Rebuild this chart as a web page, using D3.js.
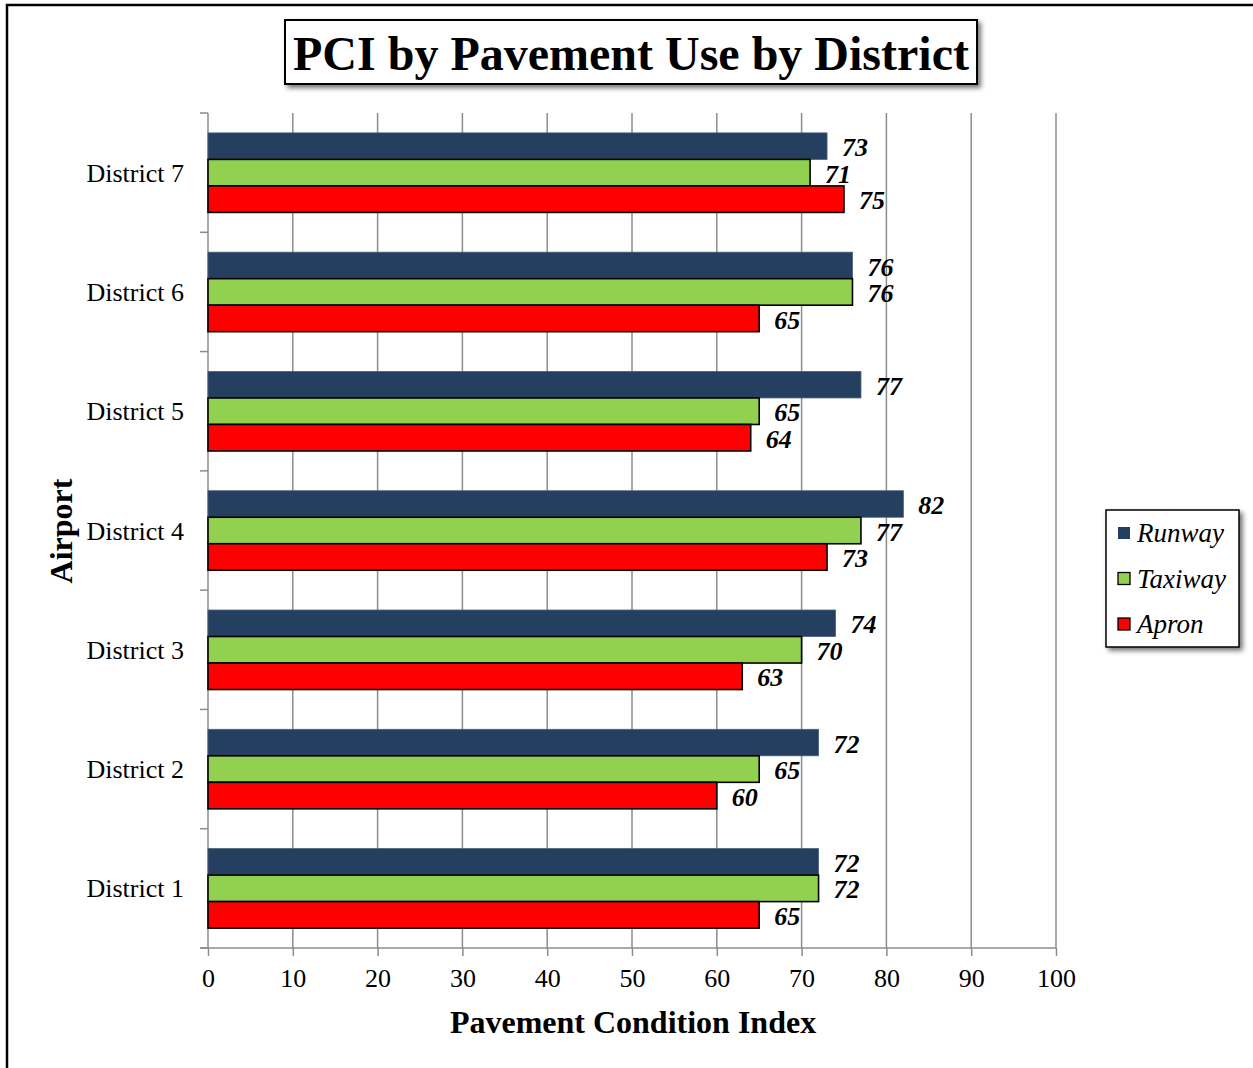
<!DOCTYPE html>
<html>
<head>
<meta charset="utf-8">
<script src="https://cdn.jsdelivr.net/npm/d3@7"></script>
<style>
  html, body { margin: 0; padding: 0; background: #fff; }
  svg { display: block; }
  text { font-family: "Liberation Serif", "Times New Roman", serif; }
</style>
</head>
<body>
<svg id="chart" width="1253" height="1068"></svg>
<script>
// Districts, listed top to bottom
const districts = ["District 7", "District 6", "District 5", "District 4", "District 3", "District 2", "District 1"];
const seriesNames = ["Runway", "Taxiway", "Apron"];
const runway  = [73, 76, 77, 82, 74, 72, 72];
const taxiway = [71, 76, 65, 77, 70, 65, 72];
const apron   = [75, 65, 64, 73, 63, 60, 65];
const xTicks = [0, 10, 20, 30, 40, 50, 60, 70, 80, 90, 100];

const seriesValues = [runway, taxiway, apron];
const colors = { Runway: "#243F60", Taxiway: "#92D050", Apron: "#FF0000" };
const strokes = { Runway: "#4A5F7A", Taxiway: "#000", Apron: "#000" };

const svg = d3.select("#chart");

// outer frame
svg.append("path")
  .attr("d", "M7,1068 L7,5 L1253,5")
  .attr("fill", "none").attr("stroke", "#000").attr("stroke-width", 2.5);

const defs = svg.append("defs");
const f = defs.append("filter").attr("id", "shadow").attr("x", "-10%").attr("y", "-10%").attr("width", "130%").attr("height", "130%");
f.append("feDropShadow").attr("dx", 3).attr("dy", 3).attr("stdDeviation", 2.5).attr("flood-color", "#000").attr("flood-opacity", 0.55);

const plot = { left: 208, right: 1056, top: 113, bottom: 948 };

const x = d3.scaleLinear().domain([0, 100]).range([plot.left, plot.right]);
const y = d3.scaleBand().domain(districts).range([plot.top, plot.bottom]).paddingInner(0.3333).paddingOuter(0.1667);
const ySub = d3.scaleBand().domain(seriesNames).range([0, y.bandwidth()]);

// vertical gridlines
svg.append("g").selectAll("line")
  .data(xTicks.filter(d => d > 0))
  .join("line")
  .attr("x1", d => x(d)).attr("x2", d => x(d))
  .attr("y1", plot.top).attr("y2", plot.bottom)
  .attr("stroke", "#8c8c8c").attr("stroke-width", 1.5);

// x axis
const xAxis = svg.append("g")
  .attr("transform", `translate(0,${plot.bottom})`)
  .call(d3.axisBottom(x).tickValues(xTicks).tickSize(8).tickPadding(13).tickFormat(d3.format("d")));
xAxis.select(".domain").attr("stroke", "#8c8c8c").attr("stroke-width", 1.5)
  .attr("d", `M${plot.left - 8},0H${plot.right}`);
xAxis.selectAll(".tick line").attr("stroke", "#8c8c8c").attr("stroke-width", 1.5);
xAxis.selectAll(".tick text").attr("font-size", 26).attr("fill", "#000")
  .style("font-family", "'Liberation Serif', serif");

// y axis: category boundary ticks
const boundaries = d3.range(districts.length + 1).map(i => plot.top + i * y.step());
svg.append("line")
  .attr("x1", plot.left).attr("x2", plot.left)
  .attr("y1", plot.top).attr("y2", plot.bottom)
  .attr("stroke", "#8c8c8c").attr("stroke-width", 1.5);
svg.append("g").selectAll("line")
  .data(boundaries)
  .join("line")
  .attr("x1", plot.left - 8).attr("x2", plot.left)
  .attr("y1", d => d).attr("y2", d => d)
  .attr("stroke", "#8c8c8c").attr("stroke-width", 1.5);

// category labels
svg.append("g").selectAll("text")
  .data(districts)
  .join("text")
  .attr("x", 184)
  .attr("y", d => y(d) + y.bandwidth() / 2)
  .attr("dy", "0.35em")
  .attr("text-anchor", "end")
  .attr("font-size", 26)
  .text(d => d);

// bars
const rows = [];
districts.forEach((d, i) => {
  seriesNames.forEach((s, j) => rows.push({ district: d, series: s, value: seriesValues[j][i] }));
});

svg.append("g").selectAll("rect")
  .data(rows)
  .join("rect")
  .attr("x", x(0))
  .attr("y", d => y(d.district) + ySub(d.series))
  .attr("width", d => x(d.value) - x(0))
  .attr("height", ySub.bandwidth())
  .attr("fill", d => colors[d.series])
  .attr("stroke", d => strokes[d.series])
  .attr("stroke-width", d => d.series === "Runway" ? 0.8 : 1.6);

// value labels
svg.append("g").selectAll("text")
  .data(rows)
  .join("text")
  .attr("x", d => x(d.value) + 15)
  .attr("y", d => y(d.district) + ySub(d.series) + ySub.bandwidth() / 2 + 1)
  .attr("dy", "0.35em")
  .attr("font-size", 26)
  .attr("font-weight", "bold")
  .attr("font-style", "italic")
  .text(d => d.value);

// axis titles
svg.append("text")
  .attr("x", 633).attr("y", 1033)
  .attr("text-anchor", "middle")
  .attr("font-size", 32).attr("font-weight", "bold")
  .text("Pavement Condition Index");

svg.append("text")
  .attr("transform", "translate(72,531) rotate(-90)")
  .attr("text-anchor", "middle")
  .attr("font-size", 32).attr("font-weight", "bold")
  .text("Airport");

// title box
svg.append("rect")
  .attr("x", 285).attr("y", 20).attr("width", 692).attr("height", 64)
  .attr("fill", "#fff").attr("stroke", "#000").attr("stroke-width", 2)
  .attr("filter", "url(#shadow)");
svg.append("text")
  .attr("x", 631).attr("y", 70)
  .attr("text-anchor", "middle")
  .attr("font-size", 48).attr("font-weight", "bold")
  .text("PCI by Pavement Use by District");

// legend
const legend = svg.append("g");
legend.append("rect")
  .attr("x", 1106).attr("y", 510).attr("width", 133).attr("height", 137)
  .attr("fill", "#fff").attr("stroke", "#000").attr("stroke-width", 1.5)
  .attr("filter", "url(#shadow)");
seriesNames.forEach((s, i) => {
  const cy = 533 + i * 45.5;
  legend.append("rect")
    .attr("x", 1118).attr("y", cy - 6).attr("width", 12).attr("height", 12)
    .attr("fill", colors[s])
    .attr("stroke", s === "Runway" ? "none" : "#000").attr("stroke-width", 1.3);
  legend.append("text")
    .attr("x", 1137).attr("y", cy).attr("dy", "0.35em")
    .attr("font-size", 27).attr("font-style", "italic")
    .text(s);
});
</script>
</body>
</html>
